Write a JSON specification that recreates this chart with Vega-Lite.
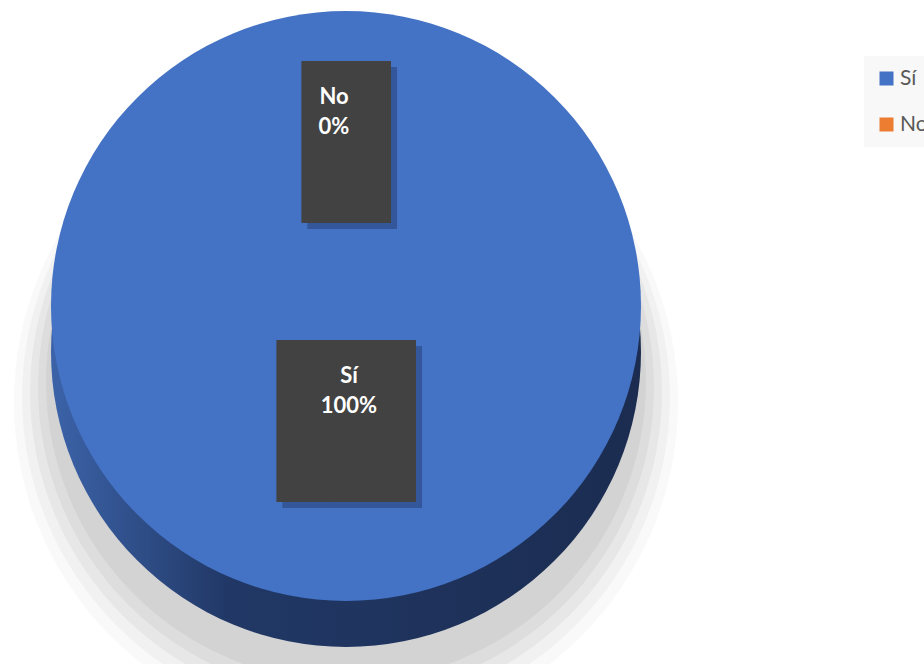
{
  "$schema": "https://vega.github.io/schema/vega-lite/v6.json",
  "autosize": "none",
  "width": 692,
  "height": 612,
  "padding": {"left": 0, "top": 0, "right": 232, "bottom": 52},
  "background": "white",
  "config": {"view": {"stroke": null}},
  "data": {"values": [
    {"answer": "Sí", "pct": 100, "label": "Sí\n100%"},
    {"answer": "No", "pct": 0, "label": "No\n0%"}
  ]},
  "encoding": {
    "theta": {"field": "pct", "type": "quantitative", "stack": true},
    "detail": {"field": "answer"},
    "order": {"field": "answer"}
  },
  "layer": [
    {"mark": {"type": "arc", "radius": 332, "yOffset": 96, "fill": "#000", "opacity": 0.025}},
    {"mark": {"type": "arc", "radius": 324, "yOffset": 91, "fill": "#000", "opacity": 0.03}},
    {"mark": {"type": "arc", "radius": 316, "yOffset": 86, "fill": "#000", "opacity": 0.04}},
    {"mark": {"type": "arc", "radius": 308, "yOffset": 81, "fill": "#000", "opacity": 0.045}},
    {"mark": {"type": "arc", "radius": 300, "yOffset": 76, "fill": "#000", "opacity": 0.045}},
    {"mark": {"type": "arc", "radius": 295, "yOffset": 46,
      "fill": {"gradient": "linear", "x1": 0, "y1": 0, "x2": 1, "y2": 0,
        "stops": [{"offset": 0, "color": "#3c63a9"}, {"offset": 0.3, "color": "#213866"}, {"offset": 1, "color": "#1b2c50"}]}}},
    {"mark": {"type": "arc", "radius": 295},
     "encoding": {"color": {"field": "answer", "type": "nominal",
       "scale": {"domain": ["Sí", "No"], "range": ["#4472c4", "#ed7d31"]},
       "legend": {"title": null, "orient": "none", "legendX": 864, "legendY": 56,
         "padding": 12, "fillColor": "#f8f8f8", "symbolType": "square", "symbolSize": 196,
         "symbolStrokeWidth": 0, "labelFont": "Lato", "labelFontSize": 21, "labelColor": "#595959",
         "labelOffset": 3, "rowPadding": 24}}}},
    {"transform": [{"filter": "datum.answer == 'No'"}],
     "mark": {"type": "text", "text": "█", "font": "DejaVu Sans Mono", "fontSize": 128, "radius": 158, "align": "center", "baseline": "middle", "fill": "#34569a", "stroke": "#34569a", "strokeWidth": 10, "dx": 6, "dy": 6}},
    {"transform": [{"filter": "datum.answer == 'No'"}],
     "mark": {"type": "text", "text": "█", "font": "DejaVu Sans Mono", "fontSize": 128, "radius": 158, "align": "center", "baseline": "middle", "fill": "#424242", "stroke": "#424242", "strokeWidth": 10}},
    {"transform": [{"filter": "datum.answer == 'Sí'"}],
     "mark": {"type": "text", "text": "█", "font": "DejaVu Sans Mono", "fontSize": 128, "radius": 121, "align": "center", "baseline": "middle", "fill": "#34569a", "stroke": "#34569a", "strokeWidth": 10, "dx": -19, "dy": 6}},
    {"transform": [{"filter": "datum.answer == 'Sí'"}],
     "mark": {"type": "text", "text": "█", "font": "DejaVu Sans Mono", "fontSize": 128, "radius": 121, "align": "center", "baseline": "middle", "fill": "#34569a", "stroke": "#34569a", "strokeWidth": 10, "dx": 31, "dy": 6}},
    {"transform": [{"filter": "datum.answer == 'Sí'"}],
     "mark": {"type": "text", "text": "█", "font": "DejaVu Sans Mono", "fontSize": 128, "radius": 121, "align": "center", "baseline": "middle", "fill": "#424242", "stroke": "#424242", "strokeWidth": 10, "dx": -25}},
    {"transform": [{"filter": "datum.answer == 'Sí'"}],
     "mark": {"type": "text", "text": "█", "font": "DejaVu Sans Mono", "fontSize": 128, "radius": 121, "align": "center", "baseline": "middle", "fill": "#424242", "stroke": "#424242", "strokeWidth": 10, "dx": 25}},
    {"transform": [{"filter": "datum.answer == 'No'"}],
     "mark": {"type": "text", "radius": 209, "dx": -12, "align": "center", "baseline": "middle", "lineBreak": "\n", "lineHeight": 30, "font": "Lato", "fontWeight": "bold", "fontSize": 22, "fill": "white"},
     "encoding": {"text": {"field": "label"}}},
    {"transform": [{"filter": "datum.answer == 'Sí'"}],
     "mark": {"type": "text", "radius": 70, "dx": 3, "align": "center", "baseline": "middle", "lineBreak": "\n", "lineHeight": 30, "font": "Lato", "fontWeight": "bold", "fontSize": 22, "fill": "white"},
     "encoding": {"text": {"field": "label"}}}
  ]
}
